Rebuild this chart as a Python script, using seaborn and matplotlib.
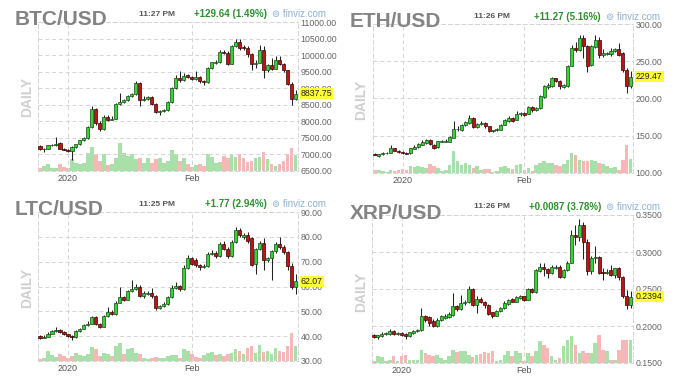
import numpy as np
import pandas as pd
import seaborn as sns
import matplotlib.pyplot as plt
from matplotlib.ticker import FormatStrFormatter

sns.set_style("white")
plt.rcParams['font.family'] = ['Liberation Sans', 'DejaVu Sans']

# ---------------------------------------
# data (daily candles, first day 2019-12-25)
btc_open = [7254, 7153, 7173, 7274, 7290, 7355, 7173, 7143, 7103, 7224, 7304, 7425, 7496, 7828, 8382, 7949,
            7778, 8130, 8050, 8080, 8533, 8583, 8634, 8765, 8835, 9157, 8634, 8684, 8734, 8533, 8281, 8301,
            8330, 8583, 9016, 9318, 9238, 9399, 9338, 9288, 9330, 9208, 9187, 9610, 9760, 9792, 10094, 10074,
            9741, 10275, 10396, 10245, 10215, 10043, 9721, 9770, 10144, 9540, 9691, 9590, 9862, 9741, 9540,
            9137, 8684]
btc_close = [7153, 7173, 7274, 7290, 7330, 7173, 7143, 7103, 7224, 7304, 7425, 7496, 7828, 8382, 7949, 7778,
             8130, 8050, 8080, 8533, 8583, 8634, 8765, 8835, 9157, 8634, 8684, 8734, 8533, 8281, 8311, 8330,
             8583, 9016, 9318, 9238, 9359, 9338, 9288, 9330, 9208, 9187, 9610, 9792, 9792, 10094, 10074, 9741,
             10275, 10396, 10215, 10215, 10043, 9721, 9770, 10144, 9540, 9691, 9590, 9862, 9741, 9540, 9137,
             8684, 8838]
btc_high = [7300, 7200, 7300, 7330, 7526, 7380, 7200, 7160, 7250, 7330, 7450, 7530, 7850, 8450, 8400, 8000,
            8180, 8200, 8150, 8560, 8855, 8680, 8790, 8870, 9218, 9190, 8760, 8780, 8760, 8560, 8340, 8360,
            8620, 9050, 9400, 9520, 9450, 9440, 9380, 9520, 9360, 9250, 9640, 9800, 9850, 10150, 10160, 10120,
            10300, 10497, 10480, 10300, 10280, 10060, 9850, 10300, 10280, 9730, 9900, 9960, 9960, 9760, 9560,
            9200, 8950]
btc_low = [7120, 7073, 7150, 7250, 7270, 7150, 7120, 7080, 6840, 7200, 7290, 7400, 7480, 7800, 7900, 7707,
           7750, 8000, 8030, 8060, 8500, 8560, 8600, 8740, 8800, 8452, 8600, 8650, 8500, 8250, 8200, 8270,
           8310, 8560, 8990, 9200, 9220, 9300, 9260, 9250, 9150, 9100, 9170, 9580, 9720, 9770, 10020, 9700,
           9720, 10250, 10150, 10150, 9950, 9560, 9620, 9750, 9318, 9500, 9550, 9570, 9700, 9480, 9100,
           8503, 8650]
btc_vol = [10, 15, 20, 8, 10, 20, 12, 8, 35, 25, 20, 25, 55, 72, 52, 30, 52, 18, 22, 40, 85, 55, 45, 52, 35,
           40, 25, 40, 25, 35, 40, 25, 30, 64, 50, 30, 40, 20, 12, 18, 22, 15, 50, 42, 25, 28, 45, 38, 50, 42,
           52, 38, 28, 30, 38, 42, 58, 35, 20, 15, 22, 30, 50, 70, 48]
btc_ticks = [6500, 7000, 7500, 8000, 8500, 9000, 9500, 10000, 10500, 11000]

eth_open = [125.5, 123.0, 125.0, 126.5, 127.0, 133.0, 129.5, 128.5, 127.0, 126.5, 132.5, 134.5, 138.0, 140.5,
            144.0, 138.0, 135.0, 141.5, 142.0, 142.0, 147.5, 158.8, 158.3, 164.1, 167.3, 174.4, 161.9, 165.5,
            167.7, 162.8, 156.0, 157.4, 158.3, 164.5, 170.0, 174.4, 171.8, 178.9, 180.7, 179.8, 188.8, 184.3,
            186.6, 202.2, 215.7, 216.6, 226.9, 223.8, 215.7, 216.6, 244.0, 268.2, 265.0, 280.7, 270.4, 244.8,
            269.5, 278.5, 258.3, 259.6, 259.6, 264.1, 266.4, 260.5, 238.1, 216.6]
eth_close = [124.0, 125.0, 127.5, 127.5, 133.6, 129.5, 128.0, 127.0, 126.0, 133.0, 135.5, 138.5, 141.8, 144.0,
             138.5, 133.0, 142.6, 142.6, 142.6, 148.4, 159.7, 159.7, 165.0, 168.2, 174.4, 161.9, 166.4, 167.5,
             162.8, 156.0, 157.4, 159.0, 165.0, 170.9, 174.4, 170.0, 179.8, 180.7, 178.5, 188.8, 184.3, 187.9,
             203.6, 216.6, 217.9, 226.9, 223.8, 216.6, 217.5, 244.0, 268.2, 265.0, 280.7, 270.4, 243.5, 270.4,
             278.5, 258.3, 260.5, 260.5, 264.1, 266.4, 258.3, 238.1, 216.6, 229.47]
eth_high = [126.5, 126, 128, 128.5, 137, 134, 130.5, 129.5, 128, 134, 137, 140, 144, 146, 145, 139, 143.5, 144,
            146, 149, 170, 163, 166, 170, 177.6, 175, 167.5, 169.5, 168.5, 163.5, 158, 161, 166, 172, 176, 175,
            183, 182, 181.5, 190, 189.5, 189, 205, 218, 221, 228.5, 228, 224.5, 219.5, 245, 272, 276, 285, 285,
            272, 272, 285, 283, 266, 263, 268, 268, 275, 262, 241, 237]
eth_low = [123.5, 122, 124, 126, 126.5, 129, 127, 126, 125, 126, 132, 134, 137, 139.5, 137, 132, 134, 141, 141,
           141, 147, 157, 157, 163, 166, 160, 161, 164, 161, 154.5, 155, 156.5, 157.5, 164, 169, 168.5, 171, 177,
           177, 179, 182.5, 183, 186, 201, 213, 216, 222, 213, 214, 215.5, 243, 262, 264, 255, 236, 243, 268, 255,
           256, 258, 257.5, 262, 257, 236, 207.6, 214]
eth_vol = [10, 8, 5, 3, 8, 5, 10, 12, 10, 22, 18, 20, 18, 15, 28, 20, 15, 5, 8, 25, 65, 35, 25, 30, 25, 15, 20,
           8, 12, 12, 3, 5, 18, 22, 15, 12, 25, 28, 10, 15, 5, 25, 30, 35, 30, 30, 25, 20, 28, 40, 60, 55, 40, 35,
           35, 40, 35, 30, 28, 20, 15, 18, 10, 38, 85, 42]
eth_ticks = [100, 150, 200, 250, 300]

ltc_open = [40.1, 39.3, 39.7, 41.0, 42.0, 42.5, 41.5, 40.8, 40.2, 39.6, 42.0, 43.0, 44.5, 45.0, 47.6, 44.8, 43.8,
            48.0, 49.9, 49.0, 53.5, 55.7, 54.7, 58.0, 59.0, 60.0, 56.0, 56.8, 57.3, 56.0, 51.2, 52.0, 53.0, 55.8,
            59.5, 60.2, 59.0, 67.6, 71.4, 70.8, 68.7, 67.8, 68.4, 73.0, 73.6, 72.4, 77.2, 75.0, 72.4, 78.0, 82.9,
            80.0, 80.6, 79.5, 69.1, 75.1, 77.5, 70.5, 71.4, 74.1, 77.2, 75.9, 73.7, 68.1, 59.7]
ltc_close = [39.3, 39.7, 41.0, 42.0, 42.5, 41.5, 40.8, 40.2, 39.6, 42.0, 43.0, 44.5, 45.0, 47.6, 44.8, 43.8, 48.0,
             49.9, 49.0, 53.5, 55.7, 54.7, 58.0, 59.0, 60.0, 56.0, 57.3, 57.3, 56.0, 51.2, 52.0, 53.0, 55.8, 59.5,
             60.2, 59.0, 67.6, 71.4, 69.0, 68.7, 67.8, 68.4, 73.0, 73.6, 72.4, 77.2, 75.0, 72.4, 78.0, 82.9, 80.6,
             80.6, 78.2, 68.7, 75.1, 77.5, 70.5, 71.4, 74.1, 77.2, 75.9, 73.7, 68.1, 59.7, 62.07]
ltc_high = [40.5, 40.3, 41.5, 42.5, 43.6, 43.0, 42.0, 41.0, 40.5, 42.3, 43.3, 45.0, 46.0, 48.2, 48.0, 45.2, 48.4,
            51.8, 50.5, 54.0, 59.7, 56.3, 58.5, 62.8, 61.0, 60.5, 58.0, 58.2, 59.3, 56.5, 52.5, 53.8, 56.2, 60.8,
            62.0, 60.8, 68.5, 72.6, 72.0, 71.3, 69.0, 69.0, 73.8, 74.6, 74.4, 77.9, 78.2, 76.0, 78.6, 84.0, 83.7,
            81.5, 82.0, 80.0, 75.5, 78.5, 79.5, 72.0, 74.5, 77.8, 80.0, 76.7, 74.2, 69.5, 65.0]
ltc_low = [39.0, 39.2, 39.5, 40.8, 41.8, 41.2, 40.5, 39.8, 38.5, 39.3, 41.7, 42.8, 44.2, 44.8, 44.5, 43.2, 43.5,
           47.7, 48.5, 48.7, 53.2, 54.2, 54.4, 57.6, 58.7, 55.6, 55.5, 56.5, 55.5, 50.5, 50.8, 51.7, 52.7, 55.5,
           59.0, 58.0, 58.7, 67.0, 68.5, 68.0, 66.5, 67.3, 68.0, 72.8, 71.5, 72.0, 74.5, 71.5, 72.0, 77.6, 79.8,
           79.0, 77.5, 68.2, 65.0, 74.5, 66.8, 70.0, 62.7, 73.5, 75.0, 73.0, 66.5, 59.0, 57.0]
ltc_vol = [5, 10, 30, 18, 12, 20, 15, 8, 15, 25, 18, 15, 20, 42, 35, 15, 25, 20, 15, 45, 55, 22, 35, 40, 25, 20,
           10, 5, 8, 12, 8, 10, 15, 18, 18, 10, 35, 30, 20, 12, 10, 18, 25, 28, 18, 20, 15, 20, 25, 35, 30, 20,
           40, 45, 25, 48, 28, 30, 22, 38, 30, 28, 45, 85, 45]
ltc_ticks = [30, 40, 50, 60, 70, 80, 90]

xrp_open = [0.1882, 0.1851, 0.1860, 0.1896, 0.1896, 0.1927, 0.1896, 0.1904, 0.1896, 0.1869, 0.1904, 0.1936,
            0.1940, 0.2129, 0.2116, 0.2062, 0.1994, 0.2084, 0.2107, 0.2120, 0.2152, 0.2264, 0.2228, 0.2309,
            0.2318, 0.2498, 0.2287, 0.2363, 0.2331, 0.2287, 0.2183, 0.2138, 0.2197, 0.2242, 0.2300, 0.2363,
            0.2331, 0.2376, 0.2399, 0.2354, 0.2498, 0.2466, 0.2749, 0.2803, 0.2767, 0.2713, 0.2781, 0.2803,
            0.2660, 0.2758, 0.2857, 0.3230, 0.3208, 0.3365, 0.3140, 0.2749, 0.2916, 0.2938, 0.2736, 0.2722,
            0.2758, 0.2691, 0.2781, 0.2660, 0.2408, 0.2287]
xrp_close = [0.1845, 0.1873, 0.1896, 0.1904, 0.1927, 0.1896, 0.1904, 0.1873, 0.1860, 0.1913, 0.1936, 0.1949,
             0.2129, 0.2084, 0.2039, 0.1994, 0.2084, 0.2129, 0.2129, 0.2165, 0.2264, 0.2228, 0.2309, 0.2331,
             0.2498, 0.2287, 0.2363, 0.2331, 0.2287, 0.2165, 0.2138, 0.2197, 0.2242, 0.2309, 0.2354, 0.2331,
             0.2390, 0.2399, 0.2354, 0.2498, 0.2466, 0.2758, 0.2803, 0.2767, 0.2713, 0.2794, 0.2803, 0.2660,
             0.2758, 0.2857, 0.3230, 0.3208, 0.3365, 0.3140, 0.2749, 0.2916, 0.2938, 0.2722, 0.2722, 0.2736,
             0.2691, 0.2781, 0.2660, 0.2399, 0.2287, 0.2394]
xrp_high = [0.1895, 0.1885, 0.1915, 0.1925, 0.1960, 0.1940, 0.1920, 0.1915, 0.1905, 0.1925, 0.1950, 0.1965,
            0.2250, 0.2150, 0.2130, 0.2090, 0.2110, 0.2150, 0.2160, 0.2190, 0.2440, 0.2290, 0.2420, 0.2350,
            0.2535, 0.2510, 0.2400, 0.2390, 0.2340, 0.2300, 0.2190, 0.2210, 0.2260, 0.2340, 0.2370, 0.2380,
            0.2410, 0.2420, 0.2410, 0.2520, 0.2510, 0.2770, 0.2850, 0.2850, 0.2790, 0.2830, 0.2830, 0.2820,
            0.2770, 0.2880, 0.3300, 0.3370, 0.3450, 0.3400, 0.3180, 0.2950, 0.3080, 0.2950, 0.2780, 0.2770,
            0.2830, 0.2790, 0.2800, 0.2680, 0.2480, 0.2470]
xrp_low = [0.1835, 0.1820, 0.1850, 0.1880, 0.1885, 0.1885, 0.1880, 0.1860, 0.1830, 0.1855, 0.1895, 0.1925,
           0.1935, 0.2060, 0.2000, 0.1985, 0.1990, 0.2070, 0.2100, 0.2110, 0.2140, 0.2200, 0.2210, 0.2290,
           0.2310, 0.2270, 0.2180, 0.2310, 0.2240, 0.2150, 0.2110, 0.2130, 0.2190, 0.2230, 0.2280, 0.2320,
           0.2320, 0.2370, 0.2340, 0.2350, 0.2440, 0.2450, 0.2730, 0.2680, 0.2650, 0.2700, 0.2770, 0.2650,
           0.2650, 0.2740, 0.2850, 0.3100, 0.3150, 0.2900, 0.2690, 0.2700, 0.2850, 0.2700, 0.2620, 0.2700,
           0.2680, 0.2650, 0.2620, 0.2380, 0.2230, 0.2250]
xrp_vol = [5, 20, 18, 5, 8, 20, 5, 20, 25, 10, 8, 10, 40, 30, 25, 20, 25, 15, 8, 22, 40, 32, 35, 35, 25, 18, 25,
           28, 32, 30, 35, 5, 10, 25, 35, 20, 35, 30, 5, 30, 20, 35, 65, 55, 45, 20, 10, 15, 50, 70, 80, 55, 30,
           35, 30, 30, 60, 85, 40, 35, 10, 10, 40, 70, 70, 70]
xrp_ticks = [0.15, 0.20, 0.25, 0.30, 0.35]

# ---------------------------------------
# colours
GREEN, GREEN_EDGE = '#33d433', '#1a451a'
RED, RED_EDGE = '#bf1212', '#330505'
VOL_UP, VOL_DN = '#a9dfa9', '#f6b7b7'
GRID = '#d4d4d4'

W, H = 677, 383


def fx(x):
    return x / W


def fy(y):
    return 1 - y / H


panels = [
    dict(name='BTC/USD', o=btc_open, c=btc_close, h=btc_high, l=btc_low, v=btc_vol, ticks=btc_ticks,
         fmt='%.2f', last='8837.75', time='11:27 PM', change='+129.64 (1.49%)',
         box=(38, 22, 298, 171), title=(15, 25), daily=(27, 97), head=(157, 267, 272, 14)),
    dict(name='ETH/USD', o=eth_open, c=eth_close, h=eth_high, l=eth_low, v=eth_vol, ticks=eth_ticks,
         fmt='%.2f', last='229.47', time='11:26 PM', change='+11.27 (5.16%)',
         box=(373, 24, 633, 173), title=(350, 27), daily=(361, 100), head=(492, 601, 606, 17)),
    dict(name='LTC/USD', o=ltc_open, c=ltc_close, h=ltc_high, l=ltc_low, v=ltc_vol, ticks=ltc_ticks,
         fmt='%.2f', last='62.07', time='11:25 PM', change='+1.77 (2.94%)',
         box=(38, 212, 298, 361), title=(15, 215), daily=(27, 288), head=(157, 267, 272, 204)),
    dict(name='XRP/USD', o=xrp_open, c=xrp_close, h=xrp_high, l=xrp_low, v=xrp_vol, ticks=xrp_ticks,
         fmt='%.4f', last='0.2394', time='11:26 PM', change='+0.0087 (3.78%)',
         box=(372, 215, 633, 363), title=(350, 219), daily=(361, 292), head=(492, 601, 606, 207)),
]

fig = plt.figure(figsize=(W / 100, H / 100), dpi=100)

for p in panels:
    left, top, right, bottom = p['box']
    ax = fig.add_axes([fx(left), fy(bottom), (right - left) / W, (bottom - top) / H])

    dates = pd.date_range('2019-12-25', periods=len(p['c']))
    days = np.asarray((dates - pd.Timestamp('2020-01-01')).days)
    o, c = np.array(p['o']), np.array(p['c'])
    up = c >= o

    # volume underneath, on its own scale
    axv = ax.twinx()
    vol_df = pd.DataFrame({'day': days, 'vol': p['v'], 'dir': np.where(up, 'up', 'down')})
    sns.barplot(data=vol_df, x='day', y='vol', hue='dir', palette={'up': VOL_UP, 'down': VOL_DN},
                native_scale=True, dodge=False, width=0.9, saturation=1, errorbar=None,
                legend=False, linewidth=0, ax=axv)
    axv.set_ylim(0, 446)
    axv.set_yticks([])
    axv.set_ylabel('')
    axv.set_xlabel('')
    for sp in axv.spines.values():
        sp.set_visible(False)
    ax.set_zorder(axv.get_zorder() + 1)
    ax.patch.set_visible(False)

    # candles
    ax.vlines(days, p['l'], p['h'], color='#222222', linewidth=0.75, zorder=2)
    ax.bar(days, c - o, bottom=o, width=0.78,
           color=np.where(up, GREEN, RED), edgecolor=np.where(up, GREEN_EDGE, RED_EDGE),
           linewidth=0.5, zorder=3)

    ax.set_xlim(-7.5, days[-1] + 0.6)
    ax.set_ylim(p['ticks'][0], p['ticks'][-1])
    ax.set_xticks([0, 31])
    ax.set_xticklabels(['2020', 'Feb'])
    ax.set_yticks(p['ticks'])
    ax.yaxis.set_major_formatter(FormatStrFormatter(p['fmt']))
    ax.yaxis.tick_right()
    ax.tick_params(axis='y', length=0, pad=2, labelsize=6.3, labelcolor='#666666',
                   labelright=True, labelleft=False)
    ax.tick_params(axis='x', length=0, pad=2, labelsize=6.5, labelcolor='#555555')
    ax.set_xlabel('')
    ax.set_ylabel('')
    ax.grid(True, color=GRID, linestyle=(0, (4, 3)), linewidth=0.7)
    ax.set_axisbelow(True)
    for sp in ax.spines.values():
        sp.set_visible(True)
        sp.set_color(GRID)
        sp.set_linestyle((0, (4, 3)))
        sp.set_linewidth(0.7)

    # last price tag
    ax.annotate(p['last'], xy=(1, float(p['last'])), xycoords=('axes fraction', 'data'),
                xytext=(2, 0), textcoords='offset points', ha='left', va='center',
                fontsize=6.3, color='#222222', annotation_clip=False, zorder=5,
                bbox=dict(boxstyle='square,pad=0.12', fc='#ffff33', ec='none'))

    # header texts
    tx, ty = p['title']
    fig.text(fx(tx), fy(ty), p['name'], fontsize=15, fontweight='bold', color='#848484',
             ha='left', va='baseline')
    dx, dy = p['daily']
    fig.text(fx(dx), fy(dy), 'DAILY', fontsize=10, fontweight='bold', color='#d0d0d0',
             rotation=90, ha='center', va='center')
    time_x, change_r, finviz_l, head_y = p['head']
    fig.text(fx(time_x), fy(head_y), p['time'], fontsize=6, fontweight='bold', color='#555555',
             ha='center', va='center')
    fig.text(fx(change_r), fy(head_y), p['change'], fontsize=7, fontweight='bold', color='#2e8f2e',
             ha='right', va='center')
    fig.text(fx(finviz_l), fy(head_y), '\u229a finviz.com', fontsize=7, color='#8db2d2',
             ha='left', va='center')

plt.savefig('out.png', dpi=100)
